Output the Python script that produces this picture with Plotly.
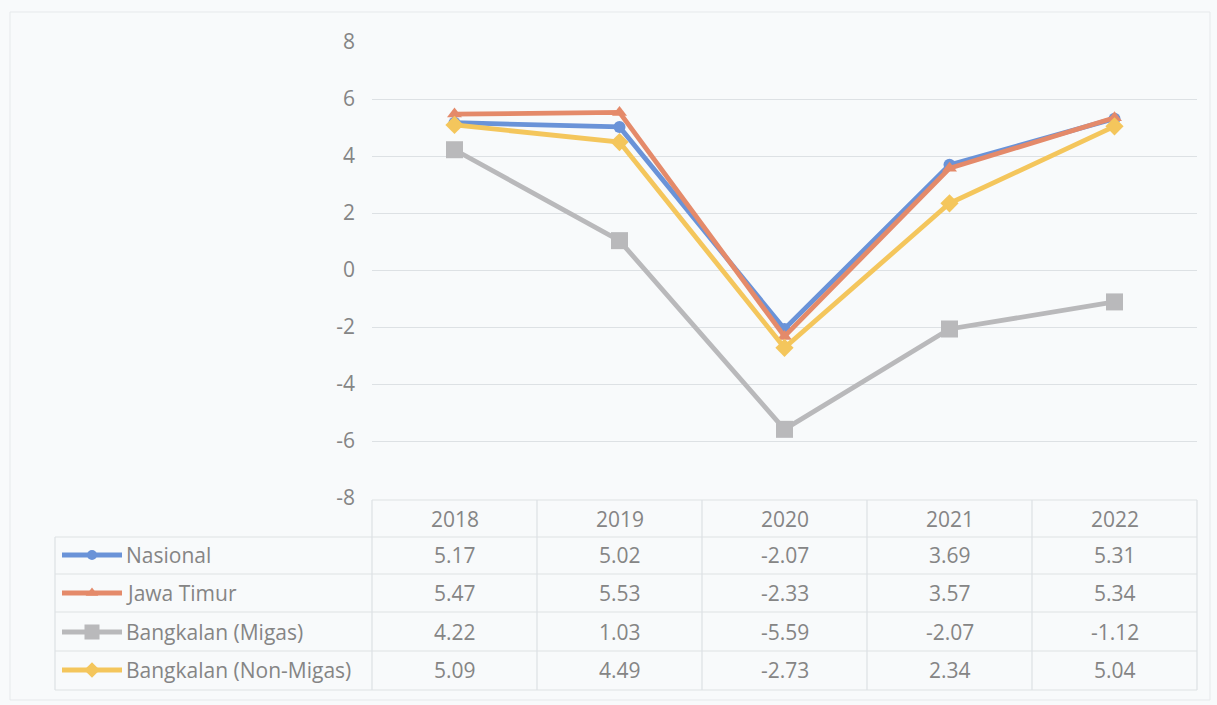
import plotly.graph_objects as go

years = ["2018", "2019", "2020", "2021", "2022"]
series_names = ["Nasional", "Jawa Timur", "Bangkalan (Migas)", "Bangkalan (Non-Migas)"]
nasional = [5.17, 5.02, -2.07, 3.69, 5.31]
jawa_timur = [5.47, 5.53, -2.33, 3.57, 5.34]
bkl_migas = [4.22, 1.03, -5.59, -2.07, -1.12]
bkl_nonmigas = [5.09, 4.49, -2.73, 2.34, 5.04]
y_ticks = [-8, -6, -4, -2, 0, 2, 4, 6, 8]

series_values = [nasional, jawa_timur, bkl_migas, bkl_nonmigas]
colors = ["#6a93d8", "#e48a6a", "#b9b9bb", "#f4c65c"]
symbols = ["circle", "triangle-up", "square", "diamond"]
msizes = [12, 13, 17, 14]

W, H = 1217, 705
X0, X1 = 372, 1197       # plot area pixels
Y_TOP, Y_BOT = 42, 498   # y=8 and y=-8 pixels
TXT = "#858585"
FONT = "Open Sans"
FS = 21
GRID = "#dde1e4"

fig = go.Figure()
for name, vals, c, s, ms in zip(series_names, series_values, colors, symbols, msizes):
    fig.add_trace(go.Scatter(x=years, y=vals, name=name, mode="lines+markers",
                             line=dict(color=c, width=4.8),
                             marker=dict(symbol=s, size=ms, color=c),
                             showlegend=False))

# legend samples in a pixel overlay axis pair
row_y = [555, 593, 632, 670]
for name, c, s, ms, ry in zip(series_names, colors, symbols, msizes, row_y):
    fig.add_trace(go.Scatter(x=[62, 122], y=[ry, ry], mode="lines", xaxis="x2", yaxis="y2",
                             line=dict(color=c, width=4.8), showlegend=False, hoverinfo="skip"))
    fig.add_trace(go.Scatter(x=[92], y=[ry], mode="markers", xaxis="x2", yaxis="y2",
                             marker=dict(symbol=s, size=ms - 2, color=c), showlegend=False,
                             hoverinfo="skip"))

shapes = []
ann = []
def hline(x0, x1, y):
    shapes.append(dict(type="line", xref="x2", yref="y2", x0=x0, x1=x1, y0=y, y1=y,
                       line=dict(color=GRID, width=1.2)))
def vline(x, y0, y1):
    shapes.append(dict(type="line", xref="x2", yref="y2", x0=x, x1=x, y0=y0, y1=y1,
                       line=dict(color=GRID, width=1.2)))

# outer chart border
shapes.append(dict(type="rect", xref="x2", yref="y2", x0=10, x1=1210, y0=12, y1=700,
                   line=dict(color="#e6e9eb", width=1)))

# table grid
TABLE_TOP, HEAD_BOT, TABLE_BOT, LEG_L = 500, 537, 690, 55
row_lines = [537, 574, 612, 651, 690]
hline(X0, X1, TABLE_TOP)
for ry in row_lines:
    hline(LEG_L, X1, ry)
col_w = (X1 - X0) / len(years)
for i in range(len(years) + 1):
    vline(X0 + i * col_w, TABLE_TOP, TABLE_BOT)
vline(LEG_L, HEAD_BOT, TABLE_BOT)

# header years (category index positions on the x axis)
for i, yr in enumerate(years):
    ann.append(dict(x=i, xref="x", y=1 - 519 / H, yref="paper", yanchor="middle", text=yr,
                    showarrow=False, font=dict(family=FONT, size=FS, color=TXT)))
# values
for vals, ry in zip(series_values, row_y):
    for i, v in enumerate(vals):
        ann.append(dict(x=i, xref="x", y=1 - ry / H, yref="paper", yanchor="middle",
                        text=f"{v:.2f}", showarrow=False,
                        font=dict(family=FONT, size=FS, color=TXT)))
# series names
for name, ry in zip(series_names, row_y):
    ann.append(dict(x=124, xref="x2", y=ry, yref="y2", yanchor="middle", text=name,
                    showarrow=False, xanchor="left",
                    font=dict(family=FONT, size=FS, color=TXT)))

fig.update_layout(
    width=W, height=H,
    margin=dict(l=0, r=0, t=0, b=0, pad=0),
    paper_bgcolor="#f8fafb", plot_bgcolor="rgba(0,0,0,0)",
    xaxis=dict(type="category", domain=[X0 / W, X1 / W], range=[-0.5, 4.5],
               showticklabels=False, showgrid=False, zeroline=False, fixedrange=True,
               automargin=False, anchor="y"),
    yaxis=dict(domain=[1 - Y_BOT / H, 1 - Y_TOP / H], range=[-8, 8], tickvals=y_ticks,
               ticktext=[str(t) for t in y_ticks], showgrid=True, gridcolor=GRID, gridwidth=1.2,
               zeroline=False, ticks="", ticklabelstandoff=16, automargin=False, anchor="x",
               tickfont=dict(family=FONT, size=FS, color=TXT)),
    xaxis2=dict(domain=[0, 1], range=[0, W], anchor="y2", visible=False, fixedrange=True),
    yaxis2=dict(domain=[0, 1], range=[H, 0], anchor="x2", visible=False, fixedrange=True),
    shapes=shapes, annotations=ann,
)
fig.write_html("out.html", config={"displayModeBar": False},
               post_script="document.body.style.margin='0';document.body.style.overflow='hidden';")
